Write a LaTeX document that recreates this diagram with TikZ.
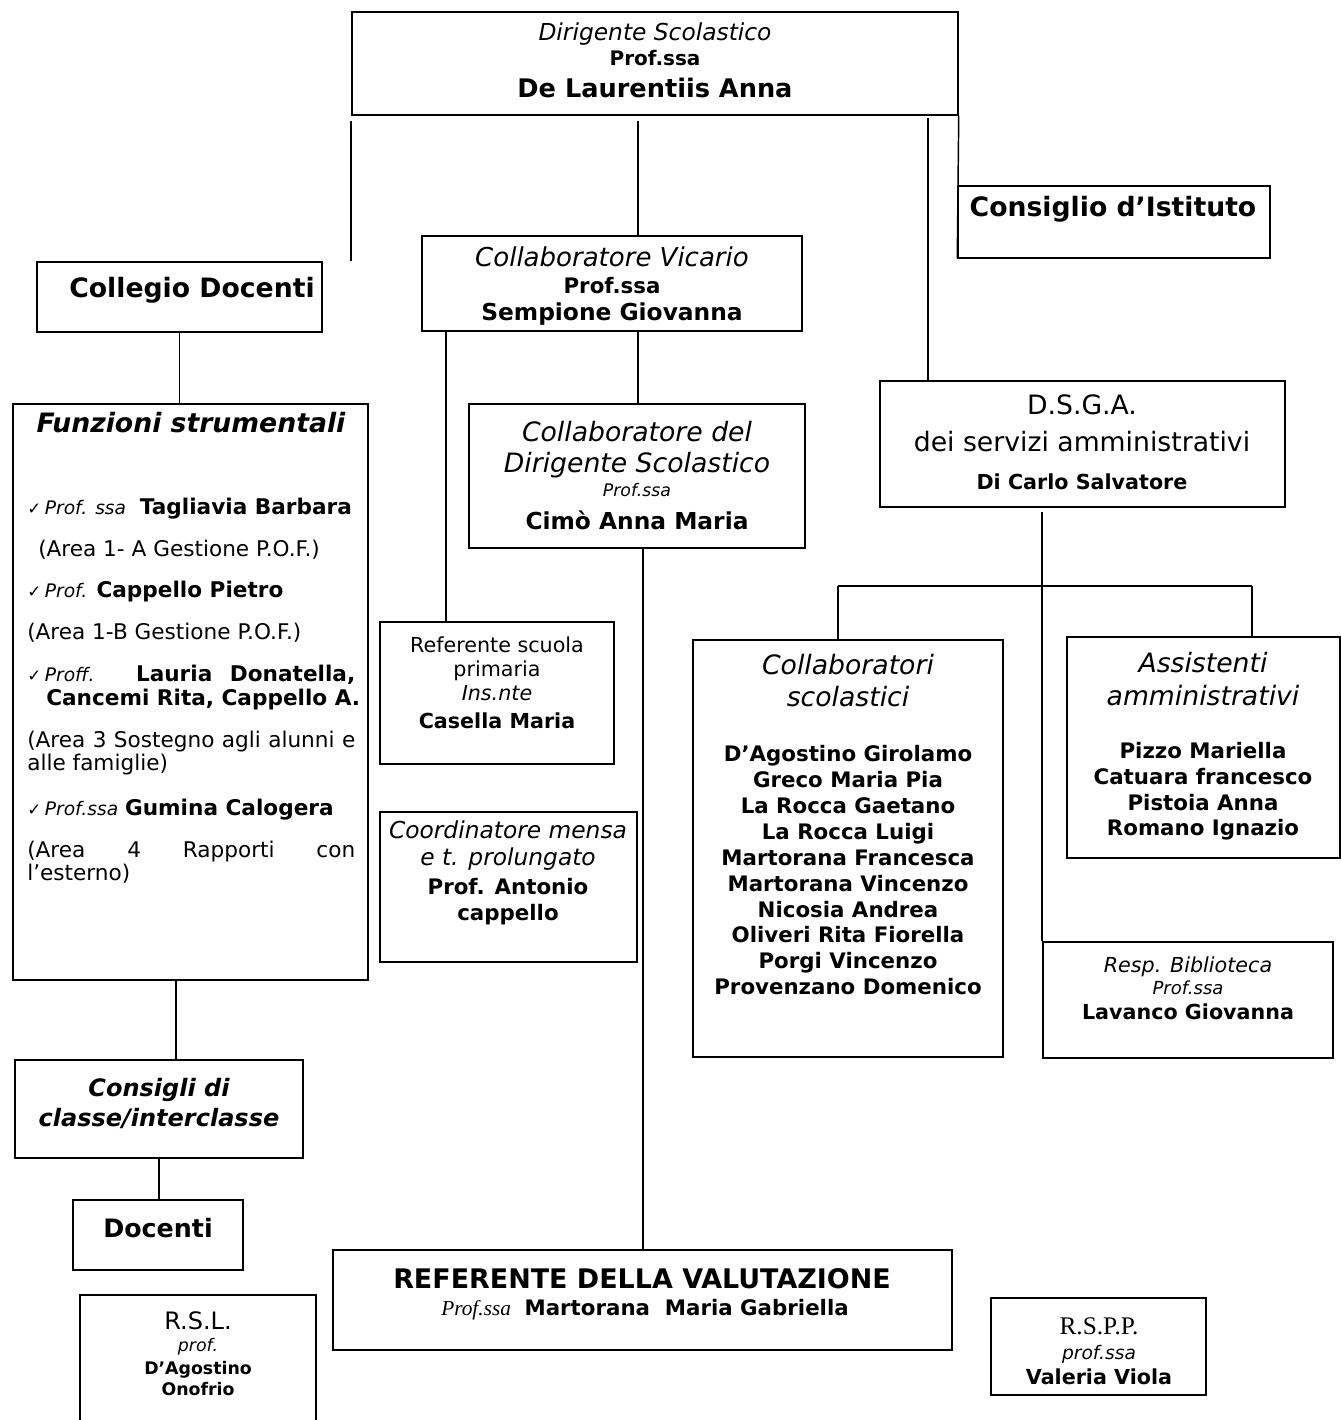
\documentclass[tikz,border=0pt]{standalone}
\usepackage{fontspec}
\setmainfont{DejaVu Sans}
\newfontfamily\timesf{Liberation Serif}
\usetikzlibrary{fit}
\newcommand\mytc[5]{\node[anchor=base,inner sep=0pt,font=\fontsize{#4}{#4}\selectfont] (#1) at (#2,{#3+0.48*#4}) {#5};}
\newcommand\mytl[5]{\node[anchor=base west,inner sep=0pt,font=\fontsize{#4}{#4}\selectfont] (#1) at (#2,{#3+0.48*#4}) {#5};}
\newcommand\bx[5]{\node[boxst,fit={(#2,#3) (#4,#5)}] (#1) {};}
\newcommand\chk{{\fontsize{12.5}{12.5}\selectfont ✓}}
\newcommand\ipf[1]{{\fontsize{14}{14}\selectfont\itshape #1}}
\tikzset{boxst/.style={draw,inner sep=0pt,line width=1.1pt},
  conn/.style={line width=1.1pt}}
\begin{document}
\begin{tikzpicture}[x=0.75pt,y=-0.75pt]
\useasboundingbox (0,0) rectangle (1341,1420);
% boxes
\bx{top}{352}{12}{958}{115}
\bx{cons}{958}{186}{1270}{258}
\bx{col}{37}{262}{322}{332}
\bx{vic}{422}{236}{802}{331}
\bx{fun}{13}{404}{368}{980}
\bx{cd}{469}{404}{805}{548}
\bx{dsga}{880}{381}{1285}{507}
\bx{rp}{380}{622}{614}{764}
\bx{cm}{380}{812}{637}{962}
\bx{cs}{693}{640}{1003}{1057}
\bx{as}{1067}{637}{1340}{858}
\bx{rb}{1043}{942}{1333}{1058}
\bx{ccl}{15}{1060}{303}{1158}
\bx{doc}{73}{1200}{243}{1270}
\bx{rv}{333}{1250}{952}{1350}
\bx{rsl}{80}{1295}{316}{1430}
\bx{rspp}{991}{1298}{1206}{1395}
% connector coordinates
\coordinate (ta) at (351,121);
\coordinate (tb) at (638,121);
\coordinate (tc) at (928,118);
\coordinate (tf) at (176,0);
\coordinate (th) at (446,0);
\coordinate (tj) at (643,0);
\coordinate (tk) at (1042,512);
\coordinate (hl) at (838,586);
\coordinate (hr) at (1252,586);
% connectors
\draw[conn] (ta) -- (ta |- col.north);
\draw[conn] (tb) -- (tb |- vic.north);
\draw[conn] (tc) -- (tc |- dsga.north);
\draw[conn] (top.south east) -- (cons.south west);
\draw[conn] (col.south) -- (col.south |- fun.north);
\draw[conn] (tf |- fun.south) -- (tf |- ccl.north);
\draw[conn] (ccl.south) -- (ccl.south |- doc.north);
\draw[conn] (th |- vic.south) -- (th |- rp.north);
\draw[conn] (tb |- vic.south) -- (tb |- cd.north);
\draw[conn] (tj |- cd.south) -- (tj |- rv.north);
\draw[conn] (tk) -- (tk |- rb.north);
\draw[conn] (hl) -- (hr);
\draw[conn] (hl) -- (hl |- cs.north);
\draw[conn] (hr) -- (hr |- as.north);
% texts
\mytc{t1}{655}{32}{17.5}{\itshape Dirigente Scolastico}
\mytc{t2}{655}{58}{15}{\bfseries Prof.ssa}
\mytc{t3}{655}{88}{19.2}{\bfseries De Laurentiis Anna}
\mytc{ci}{1113}{207}{20}{\bfseries Consiglio d’Istituto}
\mytc{cdt}{192}{288}{20}{\bfseries Collegio Docenti}
\mytc{v1}{612}{257}{19.5}{\itshape Collaboratore Vicario}
\mytc{v2}{612}{286}{16}{\bfseries Prof.ssa}
\mytc{v3}{612}{312}{17.5}{\bfseries Sempione Giovanna}
\mytc{f0}{191}{423}{20}{\bfseries\itshape Funzioni strumentali}
\mytl{f1}{27}{507}{16.2}{\chk\,\ipf{Prof. ssa}\ \ \textbf{Tagliavia Barbara}}
\mytl{f2}{38}{549}{16.2}{(Area 1- A Gestione P.O.F.)}
\mytl{f3}{27}{590}{16.2}{\chk\,\ipf{Prof.} \textbf{Cappello Pietro}}
\mytl{f4}{27}{632}{16.2}{(Area 1-B Gestione P.O.F.)}
\mytl{f5}{27}{674}{16.2}{\makebox[246pt][s]{\chk\,\ipf{Proff.} \textbf{Lauria} \textbf{Donatella,}}}
\mytl{f6}{46}{698}{16.2}{\textbf{Cancemi Rita, Cappello A.}}
\mytl{f7}{27}{740}{16.2}{\makebox[246pt][s]{(Area 3 Sostegno agli alunni e}}
\mytl{f8}{27}{763}{16.2}{alle famiglie)}
\mytl{f9}{27}{808}{16.2}{\chk\,\ipf{Prof.ssa} \textbf{Gumina Calogera}}
\mytl{f10}{27}{850}{16.2}{\makebox[246pt][s]{(Area 4 Rapporti con}}
\mytl{f11}{27}{873}{16.2}{l’esterno)}
\mytc{d1}{637}{432}{20}{\itshape Collaboratore del}
\mytc{d2}{637}{463}{20}{\itshape Dirigente Scolastico}
\mytc{d3}{637}{490}{13}{\itshape Prof.ssa}
\mytc{d4}{637}{521}{17.5}{\bfseries Cimò Anna Maria}
\mytc{g1}{1082}{405}{20}{D.S.G.A.}
\mytc{g2}{1082}{442}{20}{dei servizi amministrativi}
\mytc{g3}{1082}{482}{15.5}{\bfseries Di Carlo Salvatore}
\mytc{p1}{497}{645}{15.5}{Referente scuola}
\mytc{p2}{497}{669}{15.5}{primaria}
\mytc{p3}{497}{693}{15.5}{\itshape Ins.nte}
\mytc{p4}{497}{721}{15.5}{\bfseries Casella Maria}
\mytc{m1}{508}{830}{17.5}{\itshape Coordinatore mensa}
\mytc{m2}{508}{857}{17.5}{\itshape e t. prolungato}
\mytc{m3}{508}{887}{16}{\bfseries Prof. Antonio}
\mytc{m4}{508}{913}{16}{\bfseries cappello}
\mytc{s1}{848}{665}{20}{\itshape Collaboratori}
\mytc{s2}{848}{697}{20}{\itshape scolastici}
\foreach \nm [count=\i] in {{D’Agostino Girolamo},{Greco Maria Pia},{La Rocca Gaetano},{La Rocca Luigi},{Martorana Francesca},{Martorana Vincenzo},{Nicosia Andrea},{Oliveri Rita Fiorella},{Porgi Vincenzo},{Provenzano Domenico}}
  {\mytc{sn\i}{848}{754+25.9*(\i-1)}{16}{\bfseries \nm}}
\mytc{a1}{1203}{663}{20}{\itshape Assistenti}
\mytc{a2}{1203}{696}{20}{\itshape amministrativi}
\foreach \nm [count=\i] in {{Pizzo Mariella},{Catuara francesco},{Pistoia Anna},{Romano Ignazio}}
  {\mytc{an\i}{1203}{751+25.7*(\i-1)}{16}{\bfseries \nm}}
\mytc{b1}{1188}{965}{15.5}{\itshape Resp. Biblioteca}
\mytc{b2}{1188}{988}{13.5}{\itshape Prof.ssa}
\mytc{b3}{1188}{1012}{15.5}{\bfseries Lavanco Giovanna}
\mytc{k1}{159}{1088}{18}{\bfseries\itshape Consigli di}
\mytc{k2}{159}{1118}{18}{\bfseries\itshape classe/interclasse}
\mytc{dct}{158}{1228}{19}{\bfseries Docenti}
\mytc{r1}{642}{1279}{20.2}{\bfseries REFERENTE DELLA VALUTAZIONE}
\mytc{r2}{645}{1308}{16}{{\timesf\itshape Prof.ssa}\ \ \textbf{Martorana\ \ Maria Gabriella}}
\mytc{l1}{198}{1321}{18}{R.S.L.}
\mytc{l2}{198}{1345}{13}{\itshape prof.}
\mytc{l3}{198}{1368}{13}{\bfseries D’Agostino}
\mytc{l4}{198}{1389}{13}{\bfseries Onofrio}
\mytc{q1}{1099}{1325}{19}{\timesf R.S.P.P.}
\mytc{q2}{1099}{1353}{14}{\itshape prof.ssa}
\mytc{q3}{1099}{1377}{15.5}{\bfseries Valeria Viola}
\end{tikzpicture}
\end{document}
